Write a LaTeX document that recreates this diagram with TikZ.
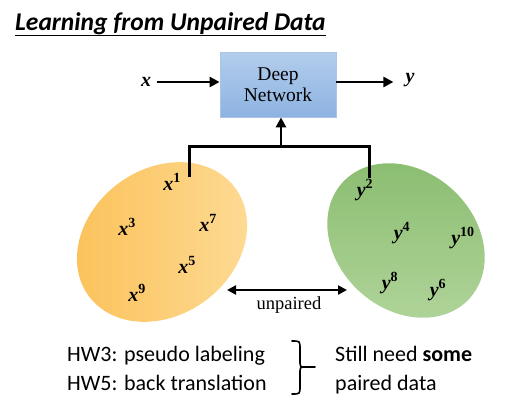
\documentclass[tikz,border=0pt]{standalone}
\usepackage{fontspec}
\setmainfont{Liberation Serif}
\newfontfamily\calibri{Carlito}
\usetikzlibrary{arrows.meta}

\definecolor{boxtop}{HTML}{B3CDEC}
\definecolor{boxbot}{HTML}{8DB3E2}
\definecolor{boxline}{HTML}{A9C5E8}
\definecolor{orA}{HTML}{FBC158}
\definecolor{orB}{HTML}{FDDB96}
\definecolor{grA}{HTML}{8ABD70}
\definecolor{grB}{HTML}{B0D49A}

\tikzset{
  dnn/.style={draw=boxline, line width=0.8pt, top color=boxtop, bottom color=boxbot,
    minimum width=116pt, minimum height=65pt, align=center, font=\fontsize{19.5}{21}\selectfont},
  pt/.style={font=\fontsize{20}{22}\selectfont\bfseries\itshape, inner sep=1pt},
  conn/.style={line width=3pt},
  arr/.style={line width=2.8pt, -{Triangle[length=10pt,width=10pt]}},
  txt/.style={font=\calibri\fontsize{22}{26}\selectfont, anchor=base west, inner sep=0pt}
}

\begin{document}
\begin{tikzpicture}[x=1pt, y=-1pt]
  \useasboundingbox (0,0) rectangle (528,402);
  % title
  \node[anchor=base west, inner sep=0pt, font=\calibri\fontsize{25.5}{30}\selectfont\bfseries\itshape] (ttl) at (15,30) {Learning from Unpaired Data};
  \draw[line width=0.8pt] ([yshift=-5pt]ttl.base west) -- ([yshift=-5pt]ttl.base east);

  % the two data sets
  \shade[left color=orA, right color=orB, rotate around={36.5:(162,242)}] (162,242) ellipse (91 and 73);
  \shade[left color=grA, right color=grB, shading angle=0, rotate around={-42.5:(406,240.5)}] (406,240.5) ellipse (86 and 69);

  % network
  \node[dnn] (dnn) at (278,84.5) {Deep\\Network};
  \node[pt] (x) at (146,82) {x};
  \node[pt] (y) at (410,80) {y};
  \draw[arr] (x.east) ++(5,0) coordinate (xs) -- (dnn.west |- xs);
  \draw[arr] (dnn.east |- xs) -- ++(57,0);

  % samples
  \node[pt] (1) at (172,182) {x\textsuperscript{\upshape 1}};
  \node[pt] (3) at (127,227) {x\textsuperscript{\upshape 3}};
  \node[pt] (7) at (208,223) {x\textsuperscript{\upshape 7}};
  \node[pt] (5) at (187,265) {x\textsuperscript{\upshape 5}};
  \node[pt] (9) at (137,293) {x\textsuperscript{\upshape 9}};
  \node[pt] (2) at (365,190) {y\textsuperscript{\upshape 2}};
  \node[pt] (4) at (402,233) {y\textsuperscript{\upshape 4}};
  \node[pt] (10) at (463,238) {y\textsuperscript{\upshape 10}};
  \node[pt] (8) at (390,283) {y\textsuperscript{\upshape 8}};
  \node[pt] (6) at (438,290) {y\textsuperscript{\upshape 6}};

  % feed into the network
  \coordinate (lt) at (189,177);
  \coordinate (rt) at (369,178);
  \coordinate (mid) at (281,146);
  \draw[conn] (lt) -- (lt |- mid) -- (rt |- mid) -- (rt);
  \draw[arr] (mid) -- (dnn.south -| mid);

  % unpaired
  \coordinate (ua) at (227,290);
  \coordinate (ub) at (347,290);
  \draw[line width=2.4pt, {Triangle[length=9pt,width=9pt]}-{Triangle[length=9pt,width=9pt]}] (ua) -- (ub);
  \node[font=\fontsize{18.5}{20}\selectfont] (up) at (289,305) {unpaired};

  % homework notes
  \node[txt] (hw3) at (67,361) {HW3: pseudo labeling};
  \node[txt] (hw5) at (67,390) {HW5: back translation};
  \coordinate (b1) at (292,341);
  \coordinate (b2) at (292,394);
  \coordinate (bt) at (315,367);
  \draw[line width=1.6pt, line cap=round] (b1) .. controls (300,341) .. (300,349) -- (300,360)
    .. controls (300,367) .. (305,367) -- (bt);
  \draw[line width=1.6pt, line cap=round] (b2) .. controls (300,394) .. (300,386) -- (300,374)
    .. controls (300,367) .. (305,367);
  \node[txt] (s1) at (335,361) {Still need \textbf{some}};
  \node[txt] (s2) at (335,390) {paired data};
\end{tikzpicture}
\end{document}
